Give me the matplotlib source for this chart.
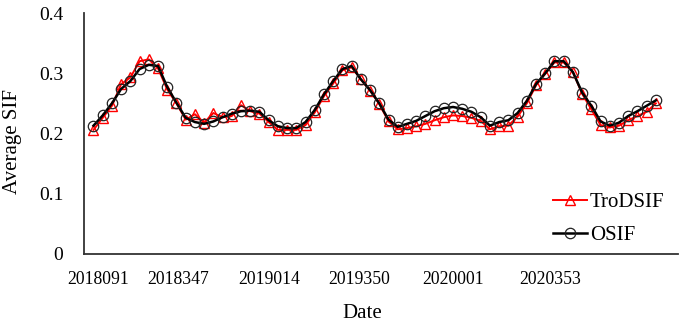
import matplotlib
matplotlib.use("Agg")
import matplotlib.pyplot as plt
import numpy as np

# ---- data ----
osif = [0.213, 0.230, 0.250, 0.274, 0.287, 0.307, 0.314, 0.312, 0.277, 0.251,
        0.226, 0.219, 0.216, 0.220, 0.227, 0.233, 0.237, 0.238, 0.236, 0.222,
        0.212, 0.209, 0.209, 0.219, 0.239, 0.265, 0.287, 0.307, 0.312, 0.290,
        0.272, 0.250, 0.223, 0.211, 0.216, 0.221, 0.229, 0.237, 0.242, 0.244,
        0.241, 0.236, 0.227, 0.213, 0.219, 0.222, 0.234, 0.254, 0.282, 0.300,
        0.320, 0.320, 0.302, 0.268, 0.246, 0.220, 0.213, 0.218, 0.229, 0.237,
        0.246, 0.255]
trodsif = [0.206, 0.226, 0.246, 0.282, 0.293, 0.320, 0.323, 0.308, 0.273, 0.250,
           0.223, 0.232, 0.218, 0.234, 0.227, 0.229, 0.247, 0.237, 0.233, 0.219,
           0.206, 0.206, 0.206, 0.214, 0.235, 0.262, 0.283, 0.305, 0.310, 0.290,
           0.271, 0.249, 0.220, 0.207, 0.209, 0.212, 0.216, 0.222, 0.227, 0.230,
           0.229, 0.226, 0.221, 0.207, 0.212, 0.213, 0.228, 0.250, 0.280, 0.299,
           0.318, 0.318, 0.302, 0.266, 0.240, 0.214, 0.210, 0.213, 0.222, 0.229,
           0.236, 0.250]
date_labels = ['2018091', '2018347', '2019014', '2019350', '2020001', '2020353']
date_label_idx = [0.5, 9.2, 19.1, 28.8, 39.0, 49.5]
y_ticks = [0, 0.1, 0.2, 0.3, 0.4]
y_tick_labels = ['0', '0.1', '0.2', '0.3', '0.4']

plt.rcParams['font.family'] = ['Liberation Serif', 'DejaVu Serif']

W, H = 685, 322
fig = plt.figure(figsize=(W / 100, H / 100), dpi=100)
ax = fig.add_axes([84 / W, 1 - 254 / H, (678 - 84) / W, (254 - 13) / H])

x = np.arange(len(osif))
ax.plot(x, trodsif, color='#ff0000', lw=1.4, marker='^', ms=6.5,
        mfc='none', mec='#ff0000', mew=1.0, label='TroDSIF', zorder=2)
ax.plot(x, osif, color='black', lw=1.8, marker='o', ms=7.5,
        mfc='none', mec='#222222', mew=0.9, label='OSIF', zorder=3)

ax.set_xlim(-1.03, 63.4)
ax.set_ylim(0, 0.4)
ax.set_yticks(y_ticks)
ax.set_yticklabels(y_tick_labels)
ax.set_xticks(date_label_idx)
ax.set_xticklabels(date_labels)
ax.tick_params(axis='y', length=0, pad=15, labelsize=14)
ax.tick_params(axis='x', length=0, pad=12, labelsize=12.7)

for s in ['top', 'right']:
    ax.spines[s].set_visible(False)
for s in ['left', 'bottom']:
    ax.spines[s].set_color('#333333')
    ax.spines[s].set_linewidth(1.3)

fig.text(13 / W, 1 - 141 / H, 'Average SIF', rotation=90, ha='center',
         va='center', fontsize=15)
fig.text(362 / W, 1 - 313 / H, 'Date', ha='center', va='center', fontsize=15)

leg = ax.legend(loc='upper left', bbox_to_anchor=((545 - 84) / (678 - 84), (254 - 184) / (254 - 13)),
                frameon=False, fontsize=15, handlelength=1.6, handletextpad=0.15,
                labelspacing=0.65, borderaxespad=0)

fig.savefig('out.png', dpi=100)
